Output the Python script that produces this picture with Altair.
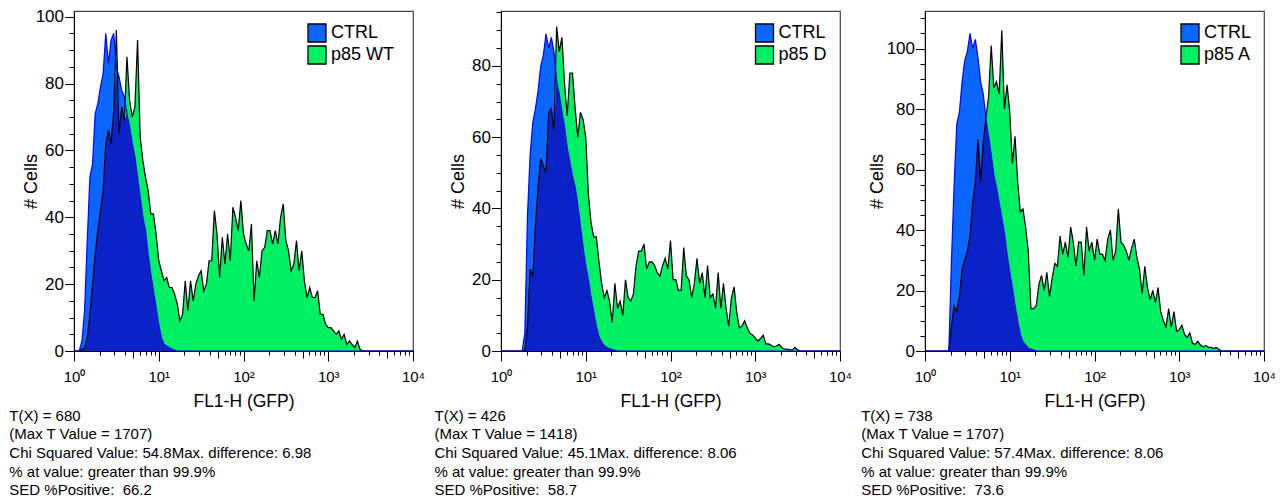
import altair as alt
import pandas as pd
import numpy as np

FONT = "Liberation Sans"
LIGHT_BLUE = "#0a66ff"
GREEN = "#00f064"
DARK_BLUE = "#0a22c8"
BLUE_LINE = "#0000ff"

BINS_PER_DECADE = 32
N_BINS = 129  # channels 0..128 -> 10^0 .. 10^4
channel = list(range(N_BINS))

# ---- Panel 1 : CTRL vs p85 WT (values per channel, starting at given channel) ----
wt_ctrl_start = 2
wt_ctrl = [0, 3, 12, 33, 52, 56, 71, 74, 79, 83, 95, 86, 93, 95, 85, 82, 78, 76, 71, 67,
           62, 58, 52, 46, 40, 36, 29, 23, 18, 13, 8, 4, 2, 1.5, 1, 0.5, 0.3, 0]
wt_samp_start = 3
wt_samp = [0.5, 1, 4, 11, 20, 29, 36, 42, 48, 62, 66, 62, 72, 96, 65, 73, 69, 88, 75, 70,
           73, 93, 64, 57, 52, 48, 41, 41, 35, 27, 24, 21, 22, 19, 19, 17, 14, 9, 11, 21,
           12, 21, 15, 20, 22.5, 24, 18, 20, 27, 27, 42, 35, 22, 34, 26, 35, 27, 43, 40, 36,
           45, 35, 32, 30, 38, 15, 27, 22, 30, 31, 36, 36, 32, 36, 32, 40, 44, 33, 30, 24,
           26, 33, 24, 30, 21, 16, 19, 16, 16, 18, 11, 11, 8, 7, 7, 6, 5, 6, 3.5, 5,
           2, 3, 2, 1, 3, 0.5, 0]

# ---- Panel 2 : CTRL vs p85 D ----
d_ctrl_start = 8
d_ctrl = [0, 5, 38, 55, 64, 68, 73, 80, 83, 89, 85, 88, 84, 76, 72, 67, 63, 57, 53, 49,
          46, 41, 35, 29, 24, 20, 15, 11, 7, 4, 2.5, 1.5, 1, 0.6, 0.4, 0.2, 0]
d_samp_start = 9
d_samp = [0, 7, 23, 21, 35, 46, 54, 52, 50, 67, 68, 62, 91, 84, 88, 75, 66, 78, 78, 68,
          60, 67, 65, 60, 44, 36, 32, 32, 25, 19, 15, 17, 14, 8, 19, 12, 14, 10, 20, 15,
          14, 16, 24, 28, 28, 30, 23, 25, 25, 24, 22, 21, 24, 26, 23, 31, 20, 20, 17, 17,
          29, 21, 20, 15, 19, 26, 19, 22, 15, 24, 15, 16, 12, 22, 12, 19, 12, 7, 15, 18,
          11, 6.5, 7, 8.5, 6.5, 5, 4.5, 3.7, 2.8, 3.5, 4.5, 2, 2, 1.6, 1.2, 1.4, 1.9, 1, 0.5, 0.5,
          0.3, 0.3, 1, 0.3, 0]

# ---- Panel 3 : CTRL vs p85 A ----
a_ctrl_start = 9
a_ctrl = [0, 30, 55, 75, 79, 89, 96, 99, 105, 100, 103, 97, 89, 85, 77, 71, 65, 58, 54, 49,
          44, 39, 32, 26, 21, 15, 10, 5.5, 3, 2, 1, 0.6, 0.3, 0]
a_samp_start = 9
a_samp = [0, 8, 15, 13, 18, 27, 30, 33, 38, 49, 56, 70, 56, 69, 77, 84, 101, 87, 89, 85,
          106, 80, 88, 79, 62, 71, 56, 46, 47, 41, 33, 14, 14, 15, 22, 25, 20, 26, 18, 24,
          29, 28, 38, 32, 36, 31, 41, 36, 28, 36, 36, 25, 41, 33, 36, 30, 37, 32, 32, 30,
          37, 40, 30, 33, 47, 36, 35, 33, 30, 34, 37, 31, 27, 19, 28, 21, 17, 20, 16, 21,
          13, 10, 8, 14, 8, 13, 6.5, 7, 8.5, 5.5, 4.5, 6, 2.5, 2.2, 3.2, 2, 1.4, 1.8, 1.3, 1.2,
          0.8, 1.2, 0.5, 0]

stats_wt = ["T(X) = 680", "(Max T Value = 1707)",
            "Chi Squared Value: 54.8Max. difference: 6.98",
            "% at value: greater than 99.9%", "SED %Positive:\u00a0 66.2"]
stats_d = ["T(X) = 426", "(Max T Value = 1418)",
           "Chi Squared Value: 45.1Max. difference: 8.06",
           "% at value: greater than 99.9%", "SED %Positive:\u00a0 58.7"]
stats_a = ["T(X) = 738", "(Max T Value = 1707)",
           "Chi Squared Value: 57.4Max. difference: 8.06",
           "% at value: greater than 99.9%", "SED %Positive:\u00a0 73.6"]

x_tick_values = [m * 10 ** e for e in range(4) for m in range(1, 10)] + [10000]


def full(start, vals):
    arr = [0.0] * N_BINS
    for k, v in enumerate(vals):
        arr[start + k] = v
    return arr


def panel(name, ctrl, samp, ymax, stats, legend_x, text_dx, ytitle_pad):
    xs = [10 ** (c / BINS_PER_DECADE) for c in channel]
    df = pd.DataFrame({"x": xs, "ctrl": ctrl, "samp": samp})
    df["mn"] = np.minimum(df["ctrl"], df["samp"])
    long_ctrl = pd.DataFrame({"x": xs, "v": ctrl, "series": "CTRL"})
    long_samp = pd.DataFrame({"x": xs, "v": samp, "series": name})

    xscale = alt.Scale(type="log", domain=[1, 10000], nice=False)
    yscale = alt.Scale(domain=[0, ymax], nice=False, zero=True)
    xaxis = alt.Axis(
        values=x_tick_values,
        labelExpr=("datum.value == 1 ? '10\u2070' : datum.value == 10 ? '10\u00b9' : "
                   "datum.value == 100 ? '10\u00b2' : datum.value == 1000 ? '10\u00b3' : "
                   "datum.value == 10000 ? '10\u2074' : ''"),
        tickSize={"condition": [
            {"test": "indexof([1,10,100,1000,10000], datum.value) >= 0", "value": 10},
            {"test": "indexof([5,50,500,5000], datum.value) >= 0", "value": 7}],
            "value": 4},
        labelOverlap=False, labelFlush=False, grid=False,
        labelFont=FONT, labelFontSize=15, labelColor="black", labelPadding=8,
        title="FL1-H (GFP)", titleFont=FONT, titleFontSize=17.5,
        titleFontWeight="normal", titleColor="black", titlePadding=8,
        domainColor="black", tickColor="black",
    )
    yvals = list(range(0, int(ymax) + 1, 5))
    yaxis = alt.Axis(
        values=yvals,
        labelExpr="datum.value % 20 == 0 ? datum.label : ''",
        tickSize={"condition": {"test": "datum.value % 20 == 0", "value": 9.5}, "value": 5},
        labelOverlap=False, labelFlush=False, grid=False,
        labelFont=FONT, labelFontSize=17, labelColor="black", labelPadding=1,
        title="# Cells", titleFont=FONT, titleFontSize=18, titleFontWeight="normal",
        titleColor="black", titlePadding=ytitle_pad,
        domainColor="black", tickColor="black",
    )
    X = alt.X("x:Q", scale=xscale, axis=xaxis)
    color = alt.Color(
        "series:N",
        scale=alt.Scale(domain=["CTRL", name], range=[LIGHT_BLUE, GREEN]),
        legend=alt.Legend(title=None, orient="none", legendX=legend_x, legendY=12,
                          symbolType="square", symbolSize=324, symbolStrokeColor="black",
                          symbolStrokeWidth=1.3, symbolOpacity=1, labelFont=FONT,
                          labelFontSize=18, labelColor="black", labelOffset=4,
                          rowPadding=-4),
    )
    a1 = alt.Chart(long_ctrl).mark_area(opacity=1).encode(
        x=X, y=alt.Y("v:Q", scale=yscale, axis=yaxis, stack=None), color=color)
    a2 = alt.Chart(long_samp).mark_area(opacity=1).encode(
        x=X, y=alt.Y("v:Q", scale=yscale, axis=yaxis, stack=None), color=color)
    a3 = alt.Chart(df).mark_area(opacity=1, color=DARK_BLUE).encode(
        x=X, y=alt.Y("mn:Q", scale=yscale, axis=yaxis))
    l1 = alt.Chart(df).mark_line(color="black", strokeWidth=1.2).encode(
        x=X, y=alt.Y("samp:Q", scale=yscale, axis=yaxis))
    l2 = alt.Chart(df).mark_line(color=BLUE_LINE, strokeWidth=1.2).encode(
        x=X, y=alt.Y("ctrl:Q", scale=yscale, axis=yaxis))
    return alt.layer(a1, a2, a3, l1, l2).properties(
        width=339, height=340,
        title=alt.TitleParams(text=stats, orient="bottom", anchor="start", frame="group",
                              dx=text_dx, offset=-1, font=FONT, fontSize=15,
                              fontWeight="normal", color="black", lineHeight=18.7,
                              align="left"),
    )


p1 = panel("p85 WT", full(wt_ctrl_start, wt_ctrl), full(wt_samp_start, wt_samp),
           101.7, stats_wt, 233, -64.7, -5.4)
p2 = panel("p85 D", full(d_ctrl_start, d_ctrl), full(d_samp_start, d_samp),
           95.4, stats_d, 253.5, -66.5, 4.4)
p3 = panel("p85 A", full(a_ctrl_start, a_ctrl), full(a_samp_start, a_samp),
           112.4, stats_a, 255, -63.8, -0.8)

chart = (
    alt.hconcat(p1, p2, p3, spacing=7)
    .resolve_scale(color="independent", x="independent", y="independent")
    .resolve_legend(color="independent")
    .properties(padding={"left": 0, "top": -6, "right": -2, "bottom": 0})
    .configure_view(stroke="#444444", strokeWidth=1.2)
    .configure_axis(domainWidth=1, tickWidth=1)
)

chart.save("out.html", embed_options={"renderer": "svg", "actions": False})
